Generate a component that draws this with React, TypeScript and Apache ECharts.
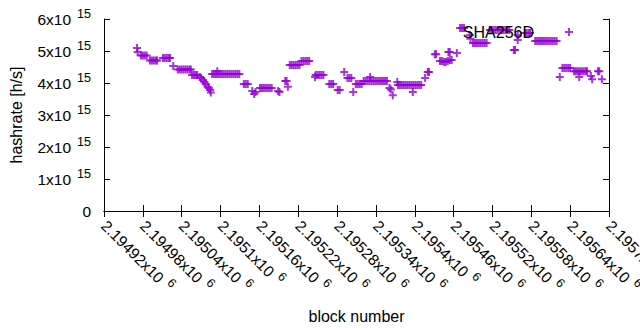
import React, { useEffect, useRef } from "react";
import * as echarts from "echarts";

const seriesName = "SHA256D";
const xMin = 2194920;
const xMax = 2195700;
const xStep = 60;
const yMax = 6e15;
const yStep = 1e15;
const xTitle = "block number";
const yTitle = "hashrate [h/s]";

// [block number, hashrate in units of 10^15 h/s]
const points: [number, number][] = [
  [2194971, 5.09], [2194972, 4.97],
  [2194977, 4.86], [2194980, 4.86], [2194983, 4.86], [2194986, 4.86],
  [2194991, 4.7], [2194994, 4.7], [2194997, 4.7], [2195000, 4.7], [2195002, 4.7],
  [2195011, 4.78], [2195014, 4.78], [2195017, 4.78], [2195020, 4.78], [2195022, 4.78],
  [2195027, 4.53],
  [2195034, 4.42], [2195037, 4.42], [2195040, 4.42], [2195043, 4.42], [2195046, 4.42], [2195049, 4.42], [2195052, 4.42], [2195054, 4.42],
  [2195056, 4.25], [2195059, 4.25], [2195062, 4.25], [2195064, 4.25],
  [2195068, 4.19], [2195070, 4.16], [2195073, 4.09], [2195075, 4.03], [2195077, 3.97], [2195080, 3.88], [2195082, 3.84], [2195084, 3.78], [2195085, 3.7],
  [2195087, 4.28], [2195090, 4.28], [2195093, 4.28], [2195095, 4.37], [2195096, 4.28], [2195099, 4.28], [2195102, 4.28], [2195105, 4.28], [2195108, 4.28], [2195111, 4.28], [2195114, 4.28], [2195117, 4.28], [2195120, 4.28], [2195123, 4.28], [2195126, 4.28], [2195129, 4.28],
  [2195136, 3.97], [2195139, 3.97], [2195142, 3.97],
  [2195149, 3.75], [2195152, 3.66], [2195154, 3.72],
  [2195161, 3.84], [2195164, 3.84], [2195167, 3.84], [2195170, 3.84], [2195173, 3.84], [2195176, 3.84], [2195179, 3.84],
  [2195189, 3.75], [2195191, 3.72],
  [2195200, 4.06], [2195202, 4.06], [2195204, 3.88],
  [2195207, 4.56], [2195210, 4.56], [2195213, 4.56], [2195216, 4.56], [2195219, 4.56], [2195222, 4.56],
  [2195225, 4.69], [2195228, 4.69], [2195231, 4.69], [2195234, 4.69], [2195237, 4.69],
  [2195246, 4.19], [2195247, 4.25], [2195250, 4.25], [2195253, 4.25], [2195256, 4.25], [2195259, 4.25],
  [2195268, 3.97], [2195271, 3.97], [2195274, 3.97],
  [2195281, 3.78], [2195284, 3.78],
  [2195291, 4.34],
  [2195296, 4.16], [2195299, 4.16], [2195302, 4.16],
  [2195305, 3.72],
  [2195309, 3.97], [2195312, 3.97], [2195315, 3.97], [2195318, 3.97],
  [2195321, 4.06], [2195324, 4.06], [2195327, 4.06], [2195330, 4.06], [2195331, 4.19], [2195333, 4.06], [2195336, 4.06], [2195339, 4.06], [2195342, 4.06], [2195345, 4.06], [2195348, 4.06], [2195351, 4.06], [2195354, 4.06], [2195357, 4.06],
  [2195361, 3.84], [2195363, 3.8], [2195366, 3.62],
  [2195373, 4.03], [2195374, 3.94], [2195377, 3.94], [2195380, 3.94], [2195383, 3.94], [2195386, 3.94], [2195389, 3.94], [2195392, 3.94], [2195395, 3.94], [2195397, 3.72], [2195398, 3.94], [2195401, 3.94], [2195404, 3.94], [2195407, 3.94], [2195410, 3.94],
  [2195416, 4.16], [2195420, 4.34], [2195422, 4.34],
  [2195431, 4.9], [2195433, 4.9],
  [2195439, 4.69], [2195442, 4.69], [2195445, 4.66], [2195448, 4.66], [2195451, 4.69], [2195454, 4.72], [2195457, 4.72],
  [2195452, 4.97], [2195454, 4.97], [2195465, 4.94],
  [2195470, 5.72], [2195473, 5.72], [2195476, 5.72],
  [2195485, 5.5], [2195486, 5.38],
  [2195490, 5.25], [2195493, 5.25], [2195496, 5.25], [2195499, 5.25], [2195502, 5.25], [2195505, 5.25], [2195508, 5.25], [2195511, 5.25],
  [2195516, 5.66], [2195519, 5.66], [2195522, 5.66], [2195525, 5.66], [2195528, 5.66], [2195531, 5.66], [2195534, 5.66], [2195537, 5.66], [2195540, 5.66], [2195543, 5.66], [2195546, 5.66],
  [2195553, 5.03], [2195555, 5.03],
  [2195559, 5.5], [2195559, 5.34],
  [2195570, 5.56], [2195573, 5.56], [2195576, 5.56], [2195578, 5.56],
  [2195586, 5.31], [2195589, 5.31], [2195592, 5.31], [2195595, 5.31], [2195598, 5.31], [2195601, 5.31], [2195604, 5.31], [2195607, 5.31], [2195610, 5.31], [2195613, 5.31], [2195616, 5.31], [2195619, 5.31],
  [2195624, 4.19],
  [2195628, 4.47], [2195631, 4.47], [2195634, 4.47], [2195637, 4.47], [2195640, 4.47],
  [2195646, 4.37], [2195649, 4.37], [2195652, 4.37], [2195655, 4.37], [2195658, 4.37], [2195661, 4.37], [2195664, 4.37], [2195666, 4.37],
  [2195654, 4.19],
  [2195672, 4.22], [2195674, 4.12],
  [2195683, 4.37], [2195685, 4.37], [2195689, 4.12],
];

const PLUS = "path://M3,0H5V3H8V5H5V8H3V5H0V3H3Z";
const FONT = "Liberation Sans, Arial, sans-serif";
const COLOR = "#9400d3";

export default function App() {
  const ref = useRef<HTMLDivElement>(null);
  useEffect(() => {
    if (!ref.current) return;
    const chart = echarts.init(ref.current, null, { renderer: "svg" });
    const rich = {
      a: { fontSize: 15.5, fontFamily: FONT, color: "#000" },
      b: { fontSize: 12.5, fontFamily: FONT, color: "#000", padding: [0, 0, 11, 6] },
    };
    chart.setOption({
      animation: false,
      textStyle: { fontFamily: FONT },
      legend: {
        data: [seriesName],
        right: 67,
        top: 24,
        padding: 0,
        align: "right",
        itemWidth: 8,
        itemHeight: 8,
        icon: PLUS,
        textStyle: { fontSize: 16, color: "#000", fontFamily: FONT, padding: [0, 26, 0, 0] },
      },
      grid: { left: 104, right: 31, top: 19, bottom: 119, containLabel: false, outerBoundsMode: "none" },
      xAxis: [
        {
          type: "value",
          min: xMin,
          max: xMax,
          interval: xStep,
          name: xTitle,
          nameLocation: "middle",
          nameGap: 97,
          nameTextStyle: { fontSize: 16, color: "#000", fontFamily: FONT },
          axisLine: { show: true, lineStyle: { color: "#000", width: 1 } },
          axisTick: { show: true, inside: true, length: 6, lineStyle: { color: "#000" } },
          splitLine: { show: false },
          axisLabel: {
            rotate: -45,
            margin: 12,
            showMaxLabel: true,
            hideOverlap: false,
            formatter: (v: number) => `{a|${v / 1e6}x10}{b|6}`,
            rich,
          },
        },
        {
          type: "value",
          position: "top",
          min: xMin,
          max: xMax,
          interval: xStep,
          axisLine: { show: true, lineStyle: { color: "#000", width: 1 } },
          axisTick: { show: true, inside: true, length: 6, lineStyle: { color: "#000" } },
          axisLabel: { show: false },
          splitLine: { show: false },
        },
      ],
      yAxis: [
        {
          type: "value",
          min: 0,
          max: yMax,
          interval: yStep,
          name: yTitle,
          nameLocation: "middle",
          nameGap: 80,
          nameTextStyle: { fontSize: 16, color: "#000", fontFamily: FONT },
          axisLine: { show: true, lineStyle: { color: "#000", width: 1 } },
          axisTick: { show: true, inside: true, length: 6, lineStyle: { color: "#000" } },
          splitLine: { show: false },
          axisLabel: {
            margin: 13,
            formatter: (v: number) => (v === 0 ? "{a|0}" : `{a|${v / 1e15}x10}{b|15}`),
            rich,
          },
        },
        {
          type: "value",
          position: "right",
          min: 0,
          max: yMax,
          interval: yStep,
          axisLine: { show: true, lineStyle: { color: "#000", width: 1 } },
          axisTick: { show: true, inside: true, length: 6, lineStyle: { color: "#000" } },
          axisLabel: { show: false },
          splitLine: { show: false },
        },
      ],
      series: [
        {
          name: seriesName,
          type: "scatter",
          xAxisIndex: 0,
          yAxisIndex: 0,
          symbol: PLUS,
          symbolSize: 8,
          itemStyle: { color: COLOR },
          data: points.map(([b, h]) => [b, h * 1e15]),
        },
      ],
    });
    return () => chart.dispose();
  }, []);
  return <div ref={ref} style={{ width: 640, height: 330, position: "absolute", left: 0, top: 0 }} />;
}
